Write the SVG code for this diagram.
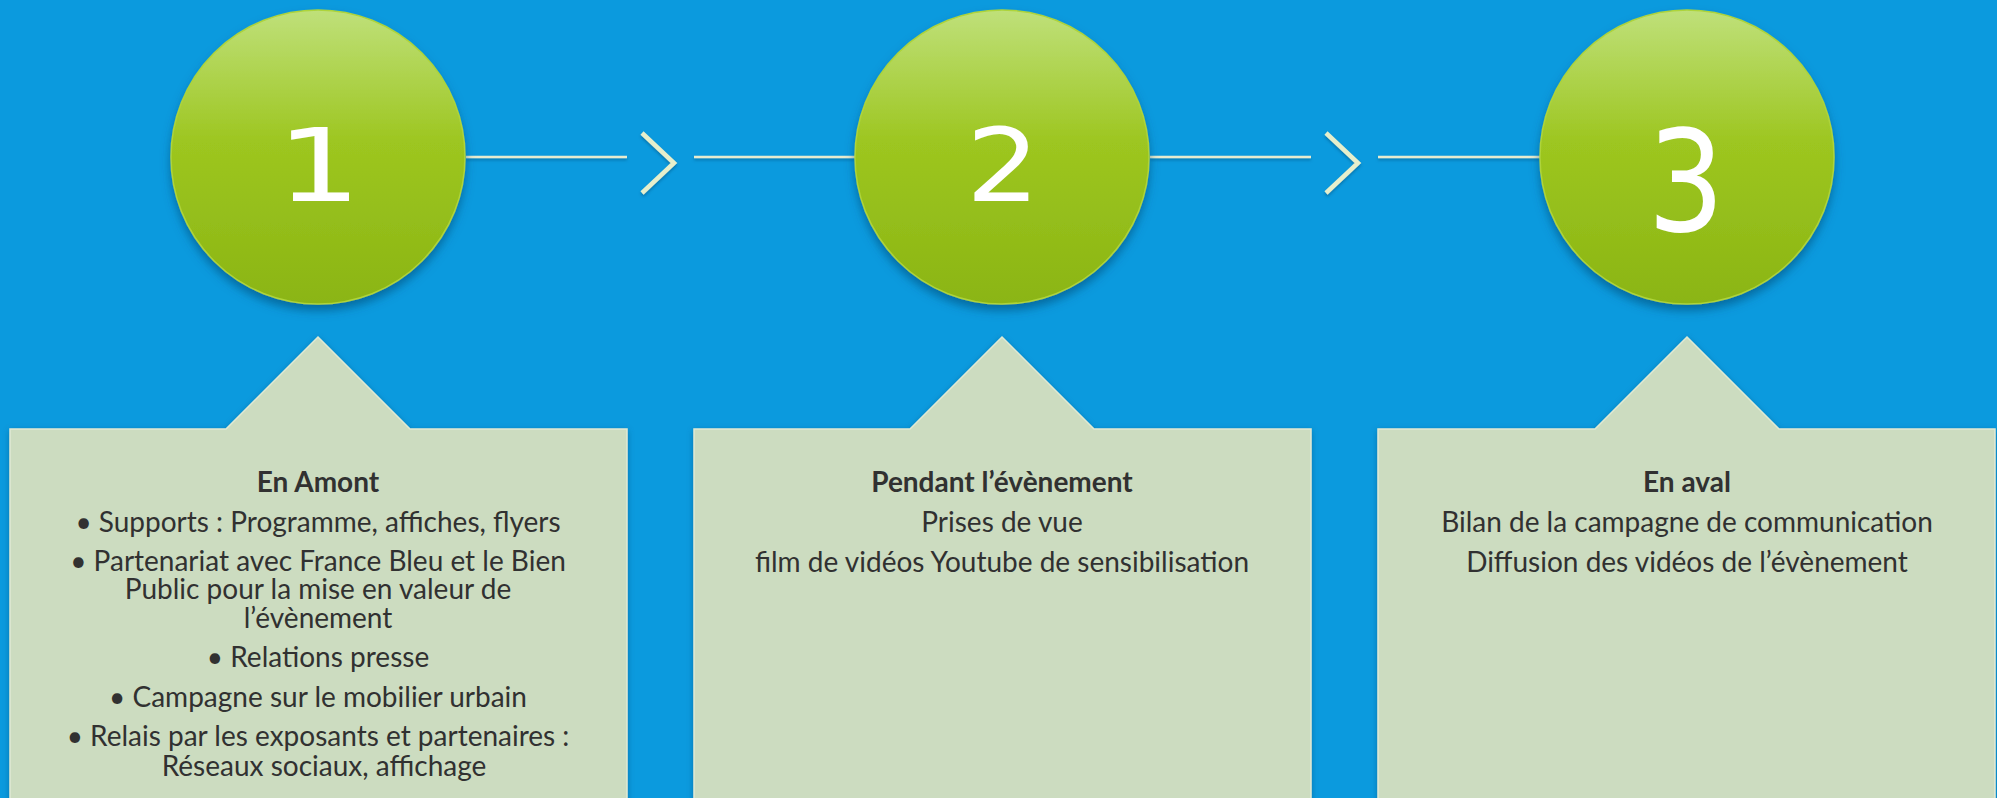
<svg xmlns="http://www.w3.org/2000/svg" width="1997" height="798" viewBox="0 0 1997 798">
  <defs>
    <linearGradient id="gGreen" x1="0" y1="0" x2="0" y2="1">
      <stop offset="0" stop-color="#bfe07a"/>
      <stop offset="0.45" stop-color="#9dc620"/>
      <stop offset="1" stop-color="#8bb514"/>
    </linearGradient>
    <filter id="shCircle" x="-20%" y="-20%" width="140%" height="150%">
      <feGaussianBlur in="SourceAlpha" stdDeviation="5"/>
      <feOffset dx="0" dy="6" result="b"/>
      <feFlood flood-color="#03456e" flood-opacity="0.55"/>
      <feComposite in2="b" operator="in"/>
      <feMerge><feMergeNode/><feMergeNode in="SourceGraphic"/></feMerge>
    </filter>
    <filter id="shBox" x="-10%" y="-10%" width="120%" height="130%">
      <feGaussianBlur in="SourceAlpha" stdDeviation="3"/>
      <feOffset dx="0" dy="2" result="b"/>
      <feFlood flood-color="#04507e" flood-opacity="0.5"/>
      <feComposite in2="b" operator="in"/>
      <feMerge><feMergeNode/><feMergeNode in="SourceGraphic"/></feMerge>
    </filter>
    <filter id="shLine" x="-10%" y="-50%" width="120%" height="200%">
      <feGaussianBlur in="SourceAlpha" stdDeviation="1.5"/>
      <feOffset dx="0" dy="2" result="b"/>
      <feFlood flood-color="#04507e" flood-opacity="0.5"/>
      <feComposite in2="b" operator="in"/>
      <feMerge><feMergeNode/><feMergeNode in="SourceGraphic"/></feMerge>
    </filter>
  </defs>
  <style>
    .circle { fill: url(#gGreen); stroke: #aed43a; stroke-width: 1.5; }
    .digit { font-family: "DejaVu Sans", sans-serif; font-size: 101px; fill: #ffffff; text-anchor: middle; }
    .box { fill: #ccdcc0; stroke: #dfe9d3; stroke-width: 1.5; }
    .conn { stroke: #e6ecd0; stroke-width: 2.5; fill: none; }
    .chev { stroke: #e6efcc; stroke-width: 4.5; fill: none; stroke-linejoin: miter; }
    .t { font-family: "Lato", "Liberation Sans", sans-serif; font-size: 28px; fill: #313131; text-anchor: middle; }
    .b { font-weight: bold; }
  </style>
  <rect x="0" y="0" width="1997" height="798" fill="#0b9ade"/>

  <g id="connectors" filter="url(#shLine)">
    <line class="conn" x1="466" y1="157" x2="627" y2="157"/>
    <polyline class="chev" points="642,133 674,163 642,193"/>
    <line class="conn" x1="694" y1="157" x2="855" y2="157"/>
    <line class="conn" x1="1150" y1="157" x2="1311" y2="157"/>
    <polyline class="chev" points="1326,133 1358,163 1326,193"/>
    <line class="conn" x1="1378" y1="157" x2="1540" y2="157"/>
  </g>

  <g id="step1">
    <circle class="circle" cx="318" cy="157" r="147" filter="url(#shCircle)"/>
    <text class="digit" transform="translate(319,201) scale(1.32,1)" x="0" y="0">1</text>
  </g>
  <g id="step2">
    <circle class="circle" cx="1002" cy="157" r="147" filter="url(#shCircle)"/>
    <text class="digit" transform="translate(1003,201) scale(1.15,1)" x="0" y="0">2</text>
  </g>
  <g id="step3">
    <circle class="circle" cx="1687" cy="157" r="147" filter="url(#shCircle)"/>
    <text class="digit" transform="translate(1686,231) scale(1.2,1.4)" x="0" y="0">3</text>
  </g>

  <g id="box1">
    <polygon class="box" filter="url(#shBox)" points="10,429 226,429 318,337 410,429 627,429 627,805 10,805"/>
    <text class="t b" x="318" y="492">En Amont</text>
    <text class="t" x="318" y="532">• Supports : Programme, affiches, flyers</text>
    <text class="t" x="318" y="571">• Partenariat avec France Bleu et le Bien<tspan x="318" y="599">Public pour la mise en valeur de</tspan><tspan x="318" y="628">l’évènement</tspan></text>
    <text class="t" x="318" y="667">• Relations presse</text>
    <text class="t" x="318" y="707">• Campagne sur le mobilier urbain</text>
    <text class="t" x="318" y="746">• Relais par les exposants et partenaires :<tspan x="324" y="776">Réseaux sociaux, affichage</tspan></text>
  </g>

  <g id="box2">
    <polygon class="box" filter="url(#shBox)" points="694,429 910,429 1002,337 1094,429 1311,429 1311,805 694,805"/>
    <text class="t b" x="1002" y="492">Pendant l’évènement</text>
    <text class="t" x="1002" y="532">Prises de vue</text>
    <text class="t" x="1002" y="572">film de vidéos Youtube de sensibilisation</text>
  </g>

  <g id="box3">
    <polygon class="box" filter="url(#shBox)" points="1378,429 1595,429 1687,337 1779,429 1995,429 1995,805 1378,805"/>
    <text class="t b" x="1687" y="492">En aval</text>
    <text class="t" x="1687" y="532">Bilan de la campagne de communication</text>
    <text class="t" x="1687" y="572">Diffusion des vidéos de l’évènement</text>
  </g>
</svg>
